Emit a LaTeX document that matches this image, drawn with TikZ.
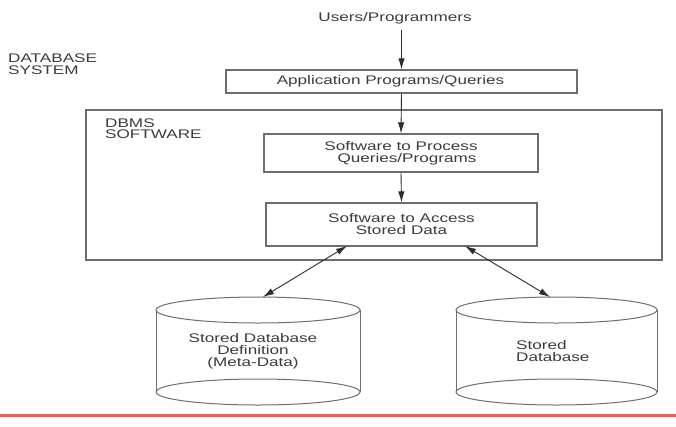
\documentclass[tikz,border=0pt]{standalone}
\usepackage{fontspec}
\setmainfont{Liberation Sans}[FakeStretch=1.37]
\usetikzlibrary{arrows.meta}
\definecolor{ln}{RGB}{110,110,110}
\definecolor{tx}{RGB}{60,60,60}
\definecolor{ar}{RGB}{45,45,45}
\definecolor{redl}{RGB}{232,96,96}
\begin{document}
\begin{tikzpicture}[x=1pt,y=-1pt,
  every node/.style={font=\fontsize{12.5}{12}\selectfont, text=tx},
  box/.style={draw=ln, line width=1.1pt, inner sep=0pt, align=center},
  lbl/.style={inner sep=0pt, align=left},
  arr/.style={draw=ar, line width=0.9pt, -{Latex[length=11pt,width=6.5pt]}},
  darr/.style={draw=ar, line width=0.9pt, {Latex[length=11pt,width=6.5pt]}-{Latex[length=11pt,width=6.5pt]}},
  cyl/.style={draw=ln, line width=1pt}]
\fill[white] (0,0) rectangle (676,426);
\useasboundingbox (0,0) rectangle (676,426);

% labels
\node[inner sep=0pt] (users) at (395,18.5) {Users/Programmers};
\node[lbl, anchor=west] (dbs) at (8,64) {DATABASE\\SYSTEM};

% boxes
\node[box, minimum width=351pt, minimum height=23pt] (app) at (401.5,81.5) {\hspace*{-22pt}Application Programs/Queries};
\node[draw=ln, line width=1.1pt, minimum width=576pt, minimum height=150pt, inner sep=0pt] (dbms) at (374,185) {};
\node[lbl, anchor=west, font=\fontsize{12.5}{11}\selectfont] (dbmsl) at (105,129) {DBMS\\SOFTWARE};
\node[box, minimum width=274pt, minimum height=38pt] (proc) at (401,153) {Software to Process\\\hspace*{12pt}Queries/Programs};
\node[box, minimum width=271pt, minimum height=43pt] (acc) at (401.5,224.5) {Software to Access\\Stored Data};

% cylinders
\draw[cyl] (258,310) ellipse [x radius=102, y radius=13];
\draw[cyl] (156,310) -- (156,392) (360,310) -- (360,392);
\draw[cyl] (258,392) ellipse [x radius=102, y radius=13];
\node[inner sep=0pt, align=center] (meta) at (253,351.5) {Stored Database\\Definition\\(Meta-Data)};

\draw[cyl] (556.5,310) ellipse [x radius=100.5, y radius=13];
\draw[cyl] (456,310) -- (456,392) (657,310) -- (657,392);
\draw[cyl] (556.5,392) ellipse [x radius=100.5, y radius=13];
\node[lbl, anchor=west] (sdb) at (516,351) {Stored\\Database};

% connectors
\coordinate (aL) at (347,246);
\coordinate (aR) at (465,246);
\coordinate (cL) at (263,297);
\coordinate (cR) at (550,297);
\draw[arr, shorten <=5pt] (users.south -| app.north) -- (app.north);
\draw[arr] (app.south) -- (proc.north);
\draw[arr] (proc.south) -- (acc.north);
\draw[darr] (aL) -- (cL);
\draw[darr] (aR) -- (cR);

% bottom rule
\draw[redl, line width=3pt] (0,415) -- (676,415);
\end{tikzpicture}
\end{document}
